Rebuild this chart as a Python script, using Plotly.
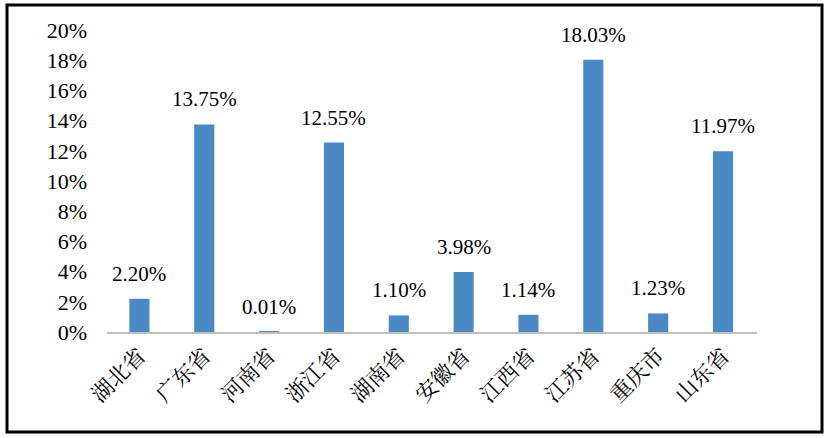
import plotly.graph_objects as go

categories = ["湖北省", "广东省", "河南省", "浙江省", "湖南省", "安徽省", "江西省", "江苏省", "重庆市", "山东省"]
values = [2.20, 13.75, 0.01, 12.55, 1.10, 3.98, 1.14, 18.03, 1.23, 11.97]
labels = ["2.20%", "13.75%", "0.01%", "12.55%", "1.10%", "3.98%", "1.14%", "18.03%", "1.23%", "11.97%"]
tick_vals = [0, 2, 4, 6, 8, 10, 12, 14, 16, 18, 20]
tick_text = ["0%", "2%", "4%", "6%", "8%", "10%", "12%", "14%", "16%", "18%", "20%"]

serif = "Liberation Serif, Times New Roman, serif"

fig = go.Figure(go.Bar(
    x=categories, y=values,
    marker=dict(color="#4A89C3", line=dict(width=0)),
    cliponaxis=False,
))

for c, v, t in zip(categories, values, labels):
    fig.add_annotation(
        x=c, y=v, text=t, showarrow=False, xanchor="center", yanchor="bottom",
        yshift=11, font=dict(family=serif, size=21, color="black"),
    )

L, R, T, B = 107, 73, 30, 106
W, H = 830, 438
pw, ph = W - L - R, H - T - B

fig.update_layout(
    width=W, height=H,
    margin=dict(l=L, r=R, t=T, b=B, pad=0, autoexpand=False),
    paper_bgcolor="white", plot_bgcolor="white",
    bargap=0.69,
    showlegend=False,
    xaxis=dict(
        tickangle=-45, showgrid=False, showline=True, linecolor="#BFBFBF", linewidth=2,
        ticks="", tickfont=dict(family="Noto Serif CJK SC, Noto Sans CJK SC", size=22, color="black"),
        fixedrange=True, automargin=False,
    ),
    yaxis=dict(
        range=[0, 20], tickvals=tick_vals, ticktext=tick_text, showgrid=False, zeroline=False,
        showline=False, ticks="", ticklabelstandoff=19, automargin=False,
        tickfont=dict(family=serif, size=22, color="black"),
    ),
    shapes=[dict(
        type="rect", xref="paper", yref="paper",
        x0=(7 - L) / pw, x1=(822 - L) / pw,
        y0=(H - B - 432) / ph, y1=(H - B - 5) / ph,
        line=dict(color="black", width=3), fillcolor="rgba(0,0,0,0)", layer="above",
    )],
)

fig.write_html("out.html", config={"displayModeBar": False},
               post_script="document.body.style.margin='0';")
